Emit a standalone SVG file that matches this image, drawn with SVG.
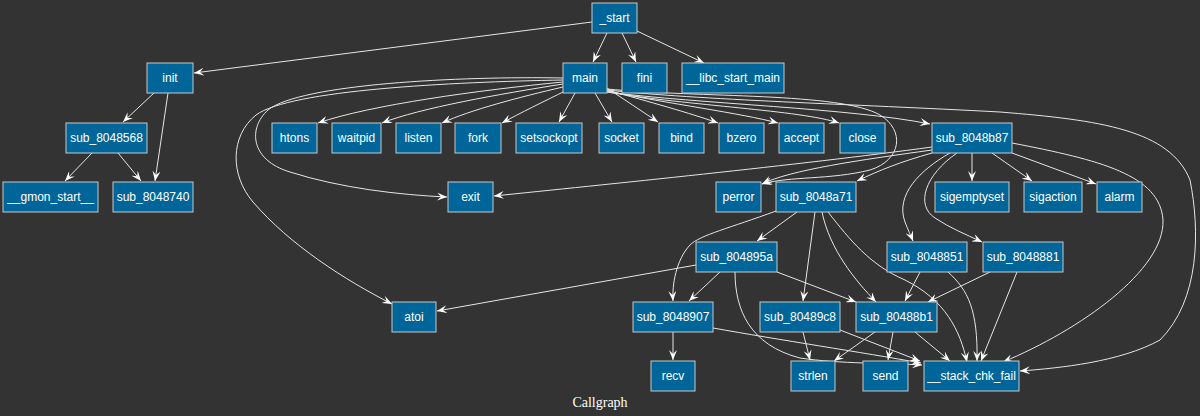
<svg xmlns="http://www.w3.org/2000/svg" width="1200" height="416" viewBox="0 0 1200 416">
<style>
.n rect{fill:#006699;stroke:#c8c8c8;stroke-width:1}
.n text{fill:#ffffff;font-family:"Liberation Sans",Arial,sans-serif;font-size:12px;text-anchor:middle}
.e path{fill:none;stroke:#e6e6e6;stroke-width:1;marker-end:url(#v)}
.t{fill:#ffffff;font-family:"Liberation Serif","Times New Roman",serif;font-size:14px;text-anchor:middle}
</style>
<defs>
<marker id="v" viewBox="0 0 10 8" refX="10" refY="4" markerWidth="10" markerHeight="8" markerUnits="userSpaceOnUse" orient="auto">
<path d="M0,0 L10,4 L0,8 L4,4 z" fill="#ffffff"/>
</marker>
</defs>
<rect width="1200" height="416" fill="#333333"/>
<g id="edges" class="e">
<path d="M592,22 L194,73"/>
<path d="M607,33 L593,62"/>
<path d="M622,33 L636,62"/>
<path d="M637,31 L704,63"/>
<path d="M154,93 L123,122"/>
<path d="M168,93 L155,181"/>
<path d="M92,153 L65,181"/>
<path d="M118,153 L141,181"/>
<path d="M563,82 C480,90 370,105 318,123"/>
<path d="M563,84 C500,94 420,108 382,123"/>
<path d="M563,87 C520,97 470,110 442,123"/>
<path d="M565,91 C545,101 520,113 502,123"/>
<path d="M575,93 L559,122"/>
<path d="M595,93 L612,122"/>
<path d="M607,88 C625,100 640,110 658,122"/>
<path d="M607,90 C650,102 690,113 718,123"/>
<path d="M607,91 C670,104 740,113 778,123"/>
<path d="M607,92 C690,106 800,110 839,123"/>
<path d="M607,92 C700,104 850,108 930,124"/>
<path d="M607,89 C700,98 840,92 880,115 C905,130 902,160 870,170 C830,180 790,176 762,184"/>
<path d="M607,90 C700,100 850,104 1000,112 C1100,120 1170,130 1190,180 C1200,230 1200,300 1160,340 C1120,362 1060,368 1020,371"/>
<path d="M563,78 C460,76 300,84 268,110 C248,128 250,160 290,172 C340,188 400,195 447,197"/>
<path d="M563,80 C450,82 290,90 256,115 C230,136 230,175 253,202 C290,245 345,280 392,304"/>
<path d="M972,153 L972,181"/>
<path d="M992,153 L1032,181"/>
<path d="M1012,153 L1096,184"/>
<path d="M950,153 C920,170 895,195 905,222 C908,230 911,236 913,241"/>
<path d="M957,153 C925,175 915,205 935,218 C950,228 965,234 982,242"/>
<path d="M1012,143 C1100,160 1160,175 1163,220 C1165,270 1080,330 1003,362"/>
<path d="M932,147 C800,165 600,185 494,196"/>
<path d="M932,150 C860,160 790,170 762,184"/>
<path d="M932,153 C900,162 880,170 857,181"/>
<path d="M797,212 L757,241"/>
<path d="M776,211 C730,228 700,235 690,245 C676,260 672,285 673,301"/>
<path d="M815,212 L803,301"/>
<path d="M822,212 C830,250 855,280 876,302"/>
<path d="M828,212 C850,240 870,265 905,280 C945,300 960,330 967,362"/>
<path d="M696,265 L437,311"/>
<path d="M720,272 L689,301"/>
<path d="M777,272 L856,302"/>
<path d="M735,272 C735,310 750,345 800,358 C840,364 890,363 922,365"/>
<path d="M673,332 L673,360"/>
<path d="M713,328 C780,340 860,352 921,363"/>
<path d="M803,332 L810,360"/>
<path d="M840,330 L920,361"/>
<path d="M875,332 L834,361"/>
<path d="M893,332 L888,360"/>
<path d="M915,332 L950,361"/>
<path d="M920,272 L905,301"/>
<path d="M948,272 C968,290 978,310 977,361"/>
<path d="M990,272 L928,302"/>
<path d="M1017,272 L981,361"/>
</g>
<g id="n_start" class="n"><rect x="592" y="3" width="45" height="30"/><text x="614.5" y="22">_start</text></g>
<g id="n_init" class="n"><rect x="147" y="63" width="46" height="30"/><text x="170" y="82">init</text></g>
<g id="n_main" class="n"><rect x="563" y="63" width="44" height="30"/><text x="585" y="82">main</text></g>
<g id="n_fini" class="n"><rect x="622" y="63" width="45" height="30"/><text x="644.5" y="82">fini</text></g>
<g id="n_libc_start_main" class="n"><rect x="682" y="63" width="102" height="30"/><text x="733" y="82">__libc_start_main</text></g>
<g id="n_sub_8048568" class="n"><rect x="66" y="123" width="81" height="30"/><text x="106.5" y="142">sub_8048568</text></g>
<g id="n_htons" class="n"><rect x="272" y="123" width="45" height="30"/><text x="294.5" y="142">htons</text></g>
<g id="n_waitpid" class="n"><rect x="332" y="123" width="49" height="30"/><text x="356.5" y="142">waitpid</text></g>
<g id="n_listen" class="n"><rect x="396" y="123" width="45" height="30"/><text x="418.5" y="142">listen</text></g>
<g id="n_fork" class="n"><rect x="455" y="123" width="46" height="30"/><text x="478" y="142">fork</text></g>
<g id="n_setsockopt" class="n"><rect x="516" y="123" width="66" height="30"/><text x="549" y="142">setsockopt</text></g>
<g id="n_socket" class="n"><rect x="599" y="123" width="45" height="30"/><text x="621.5" y="142">socket</text></g>
<g id="n_bind" class="n"><rect x="659" y="123" width="45" height="30"/><text x="681.5" y="142">bind</text></g>
<g id="n_bzero" class="n"><rect x="719" y="123" width="45" height="30"/><text x="741.5" y="142">bzero</text></g>
<g id="n_accept" class="n"><rect x="779" y="123" width="45" height="30"/><text x="801.5" y="142">accept</text></g>
<g id="n_close" class="n"><rect x="840" y="123" width="45" height="30"/><text x="862.5" y="142">close</text></g>
<g id="n_sub_8048b87" class="n"><rect x="932" y="123" width="80" height="30"/><text x="972" y="142">sub_8048b87</text></g>
<g id="n_gmon_start" class="n"><rect x="3" y="182" width="95" height="30"/><text x="50.5" y="201">__gmon_start__</text></g>
<g id="n_sub_8048740" class="n"><rect x="113" y="182" width="80" height="30"/><text x="153" y="201">sub_8048740</text></g>
<g id="n_exit" class="n"><rect x="448" y="182" width="45" height="30"/><text x="470.5" y="201">exit</text></g>
<g id="n_perror" class="n"><rect x="716" y="182" width="45" height="30"/><text x="738.5" y="201">perror</text></g>
<g id="n_sub_8048a71" class="n"><rect x="776" y="182" width="80" height="30"/><text x="816" y="201">sub_8048a71</text></g>
<g id="n_sigemptyset" class="n"><rect x="935" y="182" width="74" height="30"/><text x="972" y="201">sigemptyset</text></g>
<g id="n_sigaction" class="n"><rect x="1024" y="182" width="58" height="30"/><text x="1053" y="201">sigaction</text></g>
<g id="n_alarm" class="n"><rect x="1097" y="182" width="45" height="30"/><text x="1119.5" y="201">alarm</text></g>
<g id="n_sub_804895a" class="n"><rect x="696" y="242" width="81" height="30"/><text x="736.5" y="261">sub_804895a</text></g>
<g id="n_sub_8048851" class="n"><rect x="887" y="242" width="80" height="30"/><text x="927" y="261">sub_8048851</text></g>
<g id="n_sub_8048881" class="n"><rect x="983" y="242" width="80" height="30"/><text x="1023" y="261">sub_8048881</text></g>
<g id="n_atoi" class="n"><rect x="392" y="302" width="44" height="30"/><text x="414" y="321">atoi</text></g>
<g id="n_sub_8048907" class="n"><rect x="633" y="302" width="80" height="30"/><text x="673" y="321">sub_8048907</text></g>
<g id="n_sub_80489c8" class="n"><rect x="760" y="302" width="80" height="30"/><text x="800" y="321">sub_80489c8</text></g>
<g id="n_sub_80488b1" class="n"><rect x="856" y="302" width="81" height="30"/><text x="896.5" y="321">sub_80488b1</text></g>
<g id="n_recv" class="n"><rect x="651" y="361" width="44" height="30"/><text x="673" y="380">recv</text></g>
<g id="n_strlen" class="n"><rect x="791" y="361" width="44" height="30"/><text x="813" y="380">strlen</text></g>
<g id="n_send" class="n"><rect x="863" y="361" width="45" height="30"/><text x="885.5" y="380">send</text></g>
<g id="n_stack_chk_fail" class="n"><rect x="924" y="361" width="95" height="30"/><text x="971.5" y="380">__stack_chk_fail</text></g>
<text class="t" x="600" y="407">Callgraph</text>
</svg>
